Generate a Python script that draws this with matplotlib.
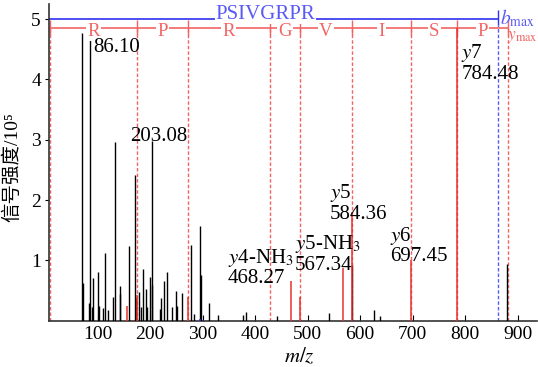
import matplotlib
matplotlib.use("Agg")
import matplotlib.pyplot as plt

plt.rcParams['font.family'] = ['Liberation Serif', 'Noto Sans CJK SC']
plt.rcParams['mathtext.fontset'] = 'stix'

# unassigned peaks: m/z and intensity (x 10^5)
other_mz = [70.07, 72.0, 84.5, 86.10, 90.2, 91.4, 100.9, 102.3, 110.5, 113.7,
            120.0, 129.0, 134.0, 142.3, 143.6, 159.4, 172.1, 173.5, 178.5,
            183.5, 186.0, 192.5, 194.0, 200.0, 203.08, 204.5, 219.0, 221.0,
            226.7, 233.0, 241.3, 249.0, 250.8, 260.4, 277.5, 284.4, 295.2,
            296.5, 312.4, 330.0, 376.5, 382.0, 441.0, 541.5, 585.6, 627.0,
            638.0, 879.0]
other_int = [4.77, 0.62, 0.29, 4.67, 0.22, 0.70, 0.81, 0.24, 0.21, 1.12,
             0.18, 0.39, 2.97, 0.44, 0.58, 1.24, 2.42, 0.38, 0.48,
             0.22, 0.85, 0.52, 0.22, 0.73, 2.98, 0.59, 0.20, 0.37,
             0.65, 0.81, 0.22, 0.50, 0.25, 0.46, 1.26, 0.11, 1.57,
             0.76, 0.29, 0.09, 0.10, 0.15, 0.08, 0.13, 0.92, 0.17,
             0.08, 0.94]

# matched y-type fragments
y_mz = [157.0, 175.12, 272.17, 468.27, 485.29, 567.34, 584.36, 697.45, 784.48]
y_int = [0.25, 0.42, 0.40, 0.65, 0.40, 0.87, 1.80, 1.00, 4.86]

# matched b-type fragment
b_mz = [296.0]
b_int = [0.03]

# y-ion ladder (reads the sequence from the C-terminus)
ladder_mz = [10.0, 175.12, 272.17, 428.27, 485.29, 584.36, 697.45, 784.48, 881.5]
ladder_res = ['R', 'P', 'R', 'G', 'V', 'I', 'S', 'P']
peptide = 'PSIVGRPR'
b_max = 862.5

RED = '#e8322f'
RED_LT = '#f26464'
BLUE = '#3030f0'
BLUE_LT = '#5a5af5'

fig = plt.figure(figsize=(5.38, 3.67), dpi=100)
ax = fig.add_axes([49.3 / 538, (367 - 320.7) / 367, (537 - 49.3) / 538, 316.7 / 367])
ax.set_xlim(8.2, 937)
ax.set_ylim(0, 5.25)

# spectrum
ax.vlines(other_mz, 0, other_int, colors='black', lw=1.0, zorder=3)
ax.vlines(y_mz, 0, y_int, colors=RED, lw=1.1, zorder=4)
ax.vlines(b_mz, 0, b_int, colors=BLUE, lw=1.1, zorder=4)

# b ladder (full peptide)
ax.plot([8.2, b_max], [5.0, 5.0], color=BLUE, lw=1.2, zorder=2)
ax.vlines([b_max], 4.9, 5.15, colors=BLUE, lw=1.0, zorder=2)
ax.vlines([b_max], 0, 4.9, colors=BLUE_LT, lw=1.0, linestyles=(0, (2.5, 1.5)), zorder=2)
ax.text(420, 5.08, peptide, color=BLUE_LT, fontsize=15, ha='center', va='center',
        bbox=dict(facecolor='white', edgecolor='none', pad=0.5), zorder=5)
ax.text(866, 5.02, r'$b_{\mathrm{max}}$', color=BLUE_LT, fontsize=14,
        ha='left', va='center', clip_on=False)

# y ladder
ladder_y = 4.86
ax.vlines(ladder_mz, 0, ladder_y, colors=RED_LT, lw=1.0, linestyles=(0, (2.5, 1.5)), zorder=2)
ax.plot([ladder_mz[0], ladder_mz[-1]], [ladder_y, ladder_y], color=RED_LT, lw=1.2, zorder=2)
ax.vlines(ladder_mz, ladder_y - 0.12, ladder_y + 0.12, colors=RED_LT, lw=1.0, zorder=2)
for i, res in enumerate(ladder_res):
    mid = (ladder_mz[i] + ladder_mz[i + 1]) / 2
    ax.text(mid, 4.80, res, color=RED_LT, fontsize=13.5, ha='center', va='center',
            bbox=dict(facecolor='white', edgecolor='none', pad=1.0), zorder=6)
ax.text(880, 4.70, r'$y_{\mathrm{max}}$', color=RED_LT, fontsize=12.5,
        ha='left', va='center', clip_on=False)

# peak annotations
notes = [
    ('86.10', 91.4, 4.69),
    ('203.08', 162, 3.21),
    ('$y$7\n784.48', 793, 4.62),
    ('$y$5\n584.36', 543, 2.30),
    ('$y$6\n697.45', 657, 1.59),
    ('$y$5-NH$_3$\n567.34', 476, 1.45),
    ('$y$4-NH$_3$\n468.27', 348, 1.23),
]
for txt, x, y in notes:
    ax.text(x, y, txt, fontsize=15, ha='left', va='top', linespacing=1.05, zorder=7)

# axes styling
for side in ['top', 'right']:
    ax.spines[side].set_visible(False)
for side in ['left', 'bottom']:
    ax.spines[side].set_linewidth(1.2)
    ax.spines[side].set_color('#333333')

ax.set_xticks(range(100, 1000, 100))
ax.set_yticks([1, 2, 3, 4, 5])
ax.tick_params(axis='x', direction='in', length=4, pad=4, labelsize=14)
ax.tick_params(axis='y', direction='out', length=3, pad=3, labelsize=14)

ax.set_xlabel('$m/z$', fontsize=15)
ax.xaxis.set_label_coords(0.512, -0.082)
ax.set_ylabel('信号强度/10⁵', fontsize=14)
ax.yaxis.set_label_coords(-0.058, 0.485)

fig.savefig('out.png', dpi=100)
